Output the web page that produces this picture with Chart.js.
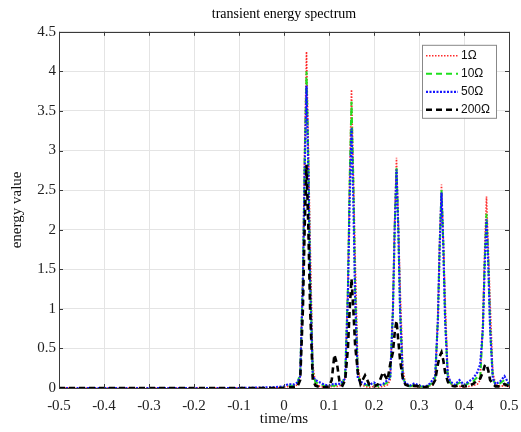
<!DOCTYPE html>
<html>
<head>
<meta charset="utf-8">
<script src="https://cdn.jsdelivr.net/npm/chart.js@4.4.1/dist/chart.umd.min.js"></script>
<style>
  html, body { margin: 0; padding: 0; background: #fff; }
  #wrap { width: 521px; height: 432px; }
</style>
</head>
<body>
<div id="wrap"><canvas id="spectrum" width="521" height="432"></canvas></div>
<script>
// time axis (ms), shared by all four series
const timeMs = [
  -0.5, -0.1, -0.02, 0, 0.01, 0.02, 0.03, 0.036, 0.042, 0.046,
  0.05, 0.054, 0.058, 0.064, 0.07, 0.08, 0.09, 0.1, 0.106, 0.112,
  0.118, 0.124, 0.13, 0.136, 0.142, 0.146, 0.15, 0.154, 0.158, 0.164,
  0.17, 0.18, 0.19, 0.2, 0.21, 0.22, 0.23, 0.236, 0.242, 0.246,
  0.25, 0.254, 0.258, 0.264, 0.27, 0.28, 0.29, 0.3, 0.31, 0.32,
  0.33, 0.336, 0.342, 0.346, 0.35, 0.354, 0.358, 0.364, 0.37, 0.38,
  0.39, 0.4, 0.41, 0.42, 0.43, 0.436, 0.442, 0.446, 0.45, 0.454,
  0.458, 0.464, 0.47, 0.48, 0.49, 0.5
];

const energy1 = [
  0, 0, 0, 0.01, 0.02, 0.02, 0.04, 0.15, 1.5, 3.1,
  4.25, 3.1, 1.9, 0.3, 0.05, 0.02, 0.01, 0.01, 0.02, 0.02,
  0.02, 0.03, 0.04, 0.13, 1.3, 2.75, 3.77, 2.75, 1.7, 0.3,
  0.05, 0.02, 0.01, 0.02, 0.01, 0.02, 0.04, 0.1, 1.0, 2.12,
  2.91, 2.12, 1.3, 0.25, 0.05, 0.02, 0.02, 0.01, 0.01, 0.02,
  0.04, 0.1, 0.9, 1.88, 2.57, 1.88, 1.15, 0.2, 0.05, 0.02,
  0.02, 0.01, 0.02, 0.03, 0.05, 0.1, 0.85, 1.77, 2.42, 1.77,
  1.1, 0.2, 0.05, 0.02, 0.03, 0.02
];

const energy10 = [
  0, 0, 0, 0.01, 0.03, 0.03, 0.05, 0.2, 1.4, 2.9,
  4.0, 2.9, 1.4, 0.2, 0.07, 0.05, 0.03, 0.02, 0.03, 0.03,
  0.04, 0.04, 0.06, 0.18, 1.27, 2.64, 3.62, 2.64, 1.27, 0.18,
  0.06, 0.04, 0.03, 0.05, 0.02, 0.04, 0.07, 0.14, 0.97, 2.03,
  2.78, 2.03, 0.97, 0.14, 0.05, 0.02, 0.04, 0.02, 0.02, 0.02,
  0.07, 0.13, 0.88, 1.83, 2.5, 1.83, 0.88, 0.13, 0.06, 0.03,
  0.07, 0.03, 0.06, 0.08, 0.14, 0.12, 0.77, 1.6, 2.2, 1.6,
  0.77, 0.12, 0.04, 0.06, 0.1, 0.04
];

const energy50 = [
  0, 0, 0.01, 0.02, 0.05, 0.04, 0.07, 0.15, 1.34, 2.78,
  3.82, 2.78, 1.34, 0.15, 0.1, 0.07, 0.04, 0.03, 0.05, 0.04,
  0.06, 0.05, 0.08, 0.12, 1.15, 2.4, 3.28, 2.4, 1.15, 0.12,
  0.08, 0.05, 0.04, 0.07, 0.03, 0.05, 0.1, 0.12, 0.97, 2.01,
  2.76, 2.01, 0.97, 0.12, 0.06, 0.03, 0.06, 0.03, 0.02, 0.03,
  0.1, 0.15, 0.86, 1.8, 2.47, 1.8, 0.86, 0.15, 0.08, 0.04,
  0.1, 0.04, 0.08, 0.12, 0.2, 0.3, 0.75, 1.55, 2.13, 1.55,
  0.75, 0.12, 0.05, 0.08, 0.15, 0.05
];

const energy200 = [
  0, 0, 0, 0, 0.01, 0.01, 0.02, 0.1, 1.0, 2.05,
  2.82, 2.05, 1.0, 0.1, 0.03, 0.01, 0.01, 0.02, 0.1, 0.42,
  0.3, 0.05, 0.03, 0.1, 0.5, 1.0, 1.38, 1.0, 0.55, 0.2,
  0.05, 0.16, 0.04, 0.02, 0.05, 0.2, 0.1, 0.3, 0.45, 0.7,
  0.85, 0.6, 0.35, 0.12, 0.04, 0.02, 0.03, 0.02, 0.01, 0.02,
  0.04, 0.1, 0.3, 0.4, 0.45, 0.35, 0.2, 0.08, 0.03, 0.02,
  0.04, 0.02, 0.03, 0.05, 0.1, 0.12, 0.2, 0.28, 0.3, 0.22,
  0.1, 0.05, 0.02, 0.02, 0.05, 0.02
];

const seriesNames = ["1Ω", "10Ω", "50Ω", "200Ω"];

const xTickValues = [-0.5, -0.4, -0.3, -0.2, -0.1, 0, 0.1, 0.2, 0.3, 0.4, 0.5];
const xTickLabels = ["-0.5", "-0.4", "-0.3", "-0.2", "-0.1", "0", "0.1", "0.2", "0.3", "0.4", "0.5"];
const yTickValues = [0, 0.5, 1, 1.5, 2, 2.5, 3, 3.5, 4, 4.5];
const yTickLabels = ["0", "0.5", "1", "1.5", "2", "2.5", "3", "3.5", "4", "4.5"];

const SERIF = "'Liberation Serif', 'DejaVu Serif', serif";

function toPoints(values) {
  return values.map((v, i) => ({ x: timeMs[i], y: v }));
}

// matlab style frame: full box with short ticks pointing inward
const boxPlugin = {
  id: "boxFrame",
  afterDraw(chart) {
    const { ctx, chartArea: a, scales } = chart;
    ctx.save();
    ctx.strokeStyle = "#3a3a3a";
    ctx.lineWidth = 1;
    ctx.strokeRect(Math.round(a.left) + 0.5, Math.round(a.top) + 0.5,
      Math.round(a.right - a.left), Math.round(a.bottom - a.top));
    const len = 4;
    ctx.beginPath();
    xTickValues.forEach((v) => {
      const px = Math.round(scales.x.getPixelForValue(v)) + 0.5;
      ctx.moveTo(px, a.top); ctx.lineTo(px, a.top + len);
      ctx.moveTo(px, a.bottom); ctx.lineTo(px, a.bottom - len);
    });
    yTickValues.forEach((v) => {
      const py = Math.round(scales.y.getPixelForValue(v)) + 0.5;
      ctx.moveTo(a.left, py); ctx.lineTo(a.left + len, py);
      ctx.moveTo(a.right, py); ctx.lineTo(a.right - len, py);
    });
    ctx.stroke();
    ctx.restore();
  }
};

// boxed legend in the upper right corner of the plot
const legendBoxPlugin = {
  id: "legendBox",
  afterDraw(chart) {
    const { ctx, chartArea: a } = chart;
    const w = 74, h = 73;
    const x0 = a.right - 13 - w, y0 = a.top + 13;
    ctx.save();
    ctx.fillStyle = "#fff";
    ctx.fillRect(x0, y0, w, h);
    ctx.strokeStyle = "#888";
    ctx.lineWidth = 1;
    ctx.strokeRect(x0 + 0.5, y0 + 0.5, w, h);
    ctx.font = "12px 'Liberation Sans', Arial, sans-serif";
    ctx.textBaseline = "middle";
    ctx.fillStyle = "#111";
    chart.data.datasets.forEach((ds, i) => {
      const y = y0 + 11 + i * 18;
      ctx.beginPath();
      ctx.strokeStyle = ds.borderColor;
      ctx.lineWidth = ds.borderWidth;
      ctx.setLineDash(ds.borderDash || []);
      ctx.moveTo(x0 + 4, y);
      ctx.lineTo(x0 + 36, y);
      ctx.stroke();
      ctx.setLineDash([]);
      ctx.fillText(ds.label, x0 + 39, y);
    });
    ctx.restore();
  }
};

const datasets = [
  { label: seriesNames[0], data: toPoints(energy1), borderColor: "#ff2a2a", borderWidth: 1.6, borderDash: [1.5, 1.5], order: 4 },
  { label: seriesNames[1], data: toPoints(energy10), borderColor: "#1ee01e", borderWidth: 2, borderDash: [6, 4], order: 3 },
  { label: seriesNames[2], data: toPoints(energy50), borderColor: "#1515ff", borderWidth: 2.2, borderDash: [2, 1.5], order: 2 },
  { label: seriesNames[3], data: toPoints(energy200), borderColor: "#000000", borderWidth: 2.6, borderDash: [6, 4], order: 1 }
].map((d) => Object.assign(d, { pointRadius: 0, tension: 0, fill: false }));

new Chart(document.getElementById("spectrum"), {
  type: "line",
  data: { datasets },
  options: {
    responsive: false,
    animation: false,
    layout: { padding: { right: 12 } },
    plugins: {
      legend: { display: false },
      tooltip: { enabled: false },
      title: {
        display: true,
        text: "transient energy spectrum",
        fullSize: false,
        color: "#000",
        font: { family: SERIF, size: 14, weight: "normal", lineHeight: 1.2 },
        padding: { top: 6, bottom: 9 }
      }
    },
    scales: {
      x: {
        type: "linear",
        min: -0.5,
        max: 0.5,
        afterBuildTicks: (scale) => { scale.ticks = xTickValues.map((v) => ({ value: v })); },
        afterFit: (scale) => {
          scale.height = 44;
          scale.paddingLeft = 0;
          scale.paddingRight = 0;
        },
        ticks: {
          callback: (v, i) => xTickLabels[i],
          color: "#222",
          font: { family: SERIF, size: 15 },
          padding: 9,
          maxRotation: 0,
          autoSkip: false
        },
        grid: { color: "#e4e4e4", drawTicks: false },
        border: { display: false },
        title: {
          display: true,
          text: "time/ms",
          color: "#111",
          font: { family: SERIF, size: 15, lineHeight: 1.2 },
          padding: { top: 0, bottom: 4 }
        }
      },
      y: {
        min: 0,
        max: 4.5,
        afterBuildTicks: (scale) => { scale.ticks = yTickValues.map((v) => ({ value: v })); },
        afterFit: (scale) => {
          scale.width = 59;
          scale.paddingTop = 0;
          scale.paddingBottom = 0;
        },
        ticks: {
          callback: (v, i) => yTickLabels[i],
          color: "#222",
          font: { family: SERIF, size: 15 },
          padding: 3
        },
        grid: { color: "#e4e4e4", drawTicks: false },
        border: { display: false },
        title: {
          display: true,
          text: "energy value",
          color: "#111",
          font: { family: SERIF, size: 15, lineHeight: 1.2 },
          padding: { top: 8, bottom: 0 }
        }
      }
    }
  },
  plugins: [boxPlugin, legendBoxPlugin]
});
</script>
</body>
</html>
